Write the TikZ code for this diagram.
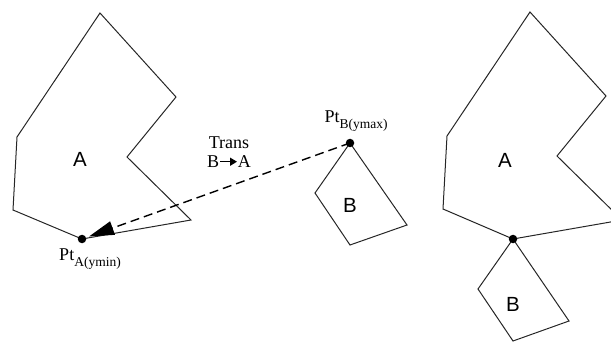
\documentclass[tikz,border=0pt]{standalone}
\usepackage{fontspec}
\setmainfont{Liberation Serif}
\newfontfamily\labelsans{Liberation Sans}
\usetikzlibrary{arrows.meta}
\begin{document}
\begin{tikzpicture}[x=1pt,y=-1pt,
    poly/.style={draw=black!85,line width=1pt,line join=miter},
    ptdot/.style={circle,fill=black,inner sep=0pt,minimum size=8.5pt},
    shapename/.style={font=\labelsans\fontsize{20.5}{20.5}\selectfont,inner sep=0pt},
    ptlabel/.style={font=\fontsize{18}{18}\selectfont,inner sep=0pt},
    transtext/.style={font=\fontsize{18}{18}\selectfont,inner sep=0pt},
    transline/.style={draw=black,line width=1.4pt,dash pattern=on 9pt off 5pt,
      -{Triangle[length=25pt,width=14pt]},shorten >=3pt}]
  \clip (0,0) rectangle (611,342);

  % polygon A before the translation
  \draw[poly] (100,13) coordinate (la1) -- (176,97) coordinate (la2)
    -- (127,157) coordinate (la3) -- (191,220) coordinate (la4)
    -- (82,239) coordinate (la5) -- (13,210) coordinate (la6)
    -- (17,137) coordinate (la7) -- cycle;
  \node[shapename] (lA) at (80,159) {A};
  \node[ptdot] (pa) at (la5) {};
  \node[ptlabel] (paL) at (90,259)
    {Pt\raisebox{-0.36em}{\fontsize{13.5}{13.5}\selectfont A(ymin)}};

  % polygon B before the translation
  \draw[poly] (350,143) coordinate (mb1) -- (315,193) coordinate (mb2)
    -- (350,245) coordinate (mb3) -- (407,225) coordinate (mb4) -- cycle;
  \node[shapename] (mB) at (350,205) {B};
  \node[ptdot] (pb) at (mb1) {};
  \node[ptlabel] (pbL) at (356,121)
    {Pt\raisebox{-0.36em}{\fontsize{13.5}{13.5}\selectfont B(ymax)}};

  % translation vector from B to A
  \draw[transline] (pb.center) -- (pa);
  \node[transtext] (tr1) at (229,143) {Trans};
  \node[transtext] (tr2) at (229,162) {B\tikz[baseline=-0.75ex]\draw[line width=1.5pt,
      -{Triangle[length=7pt,width=8pt]}] (0,0) -- (17pt,0);A};

  % result: A and B touching at the shared point
  \draw[poly] (530,12) coordinate (ra1) -- (606,96) coordinate (ra2)
    -- (557,156) coordinate (ra3) -- (622,220) coordinate (ra4)
    -- (513,239) coordinate (ra5) -- (443,209) coordinate (ra6)
    -- (447,136) coordinate (ra7) -- cycle;
  \node[shapename] (rA) at (505,160) {A};
  \draw[poly] (ra5) -- (478,289) coordinate (rb2)
    -- (513,341) coordinate (rb3) -- (569,321) coordinate (rb4) -- cycle;
  \node[shapename] (rB) at (513,304) {B};
  \node[ptdot] (pc) at (ra5) {};
\end{tikzpicture}
\end{document}
